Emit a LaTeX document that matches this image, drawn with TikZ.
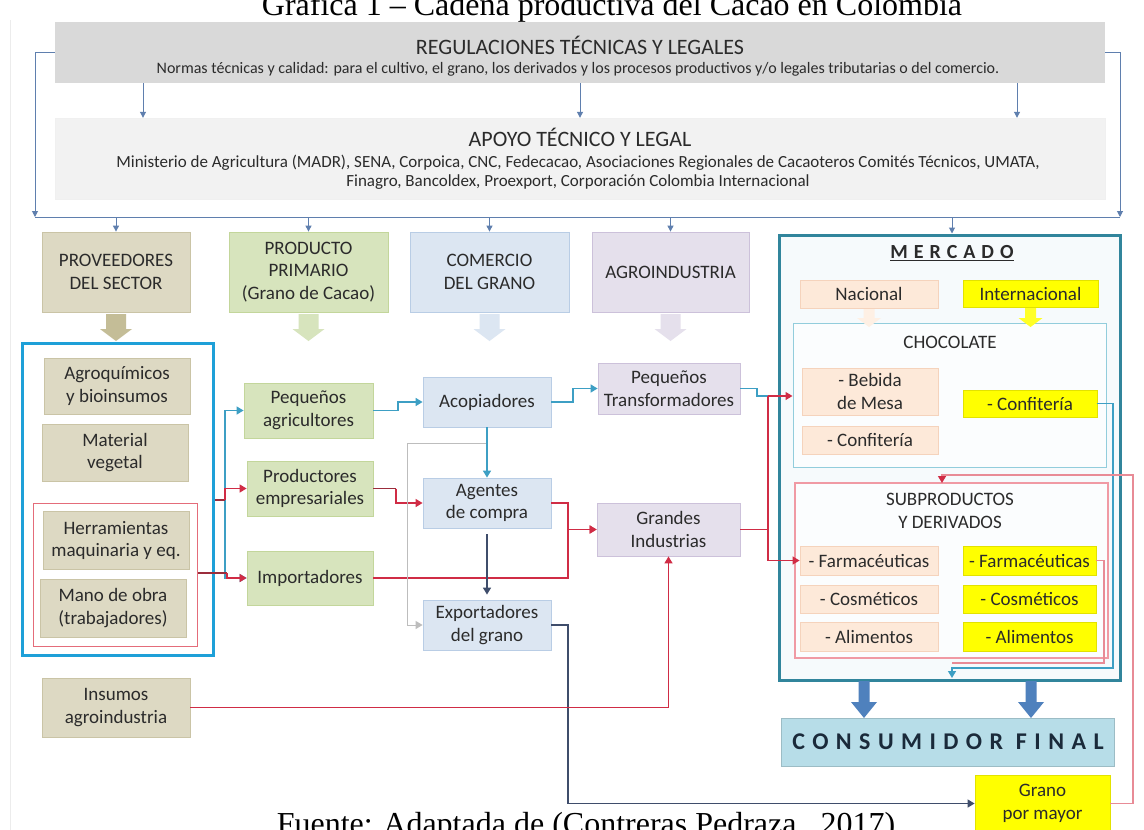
\documentclass[tikz,border=0pt]{standalone}
\usepackage{fontspec}
\setmainfont{Carlito}
\newfontfamily\tnr{Liberation Serif}
\usetikzlibrary{arrows.meta}
\definecolor{txt}{HTML}{2B2B2B}
\definecolor{regF}{HTML}{D9D9D9}
\definecolor{apoF}{HTML}{F2F2F2}
\definecolor{tanF}{HTML}{DDD9C3}
\definecolor{tanD}{HTML}{CAC4A6}
\definecolor{tanA}{HTML}{C4BD97}
\definecolor{grnF}{HTML}{D7E4BD}
\definecolor{grnD}{HTML}{C3D69B}
\definecolor{bluF}{HTML}{DCE6F2}
\definecolor{bluD}{HTML}{B9CDE5}
\definecolor{lavF}{HTML}{E5E0EC}
\definecolor{lavD}{HTML}{CCC1DA}
\definecolor{pchF}{HTML}{FDE9D9}
\definecolor{pchD}{HTML}{F5D3BC}
\definecolor{yelF}{HTML}{FFFF00}
\definecolor{yelD}{HTML}{E2E200}
\definecolor{mercD}{HTML}{31859C}
\definecolor{mercF}{HTML}{F6FAFC}
\definecolor{chocD}{HTML}{92CDDC}
\definecolor{subD}{HTML}{F09AA4}
\definecolor{provD}{HTML}{1EA0D8}
\definecolor{pinkD}{HTML}{E46C7A}
\definecolor{consF}{HTML}{B7DDE8}
\definecolor{consT}{HTML}{1A2A3A}
\definecolor{regL}{HTML}{5F7FAE}
\definecolor{bluC}{HTML}{3D9FC4}
\definecolor{redC}{HTML}{D02C45}
\definecolor{marC}{HTML}{9B2D3C}
\definecolor{navC}{HTML}{3F4D6B}
\definecolor{pnkC}{HTML}{E88B96}
\definecolor{bigA}{HTML}{4F81BD}
\definecolor{grayC}{HTML}{BDBDBD}
\newcommand\fsz{\fontsize{19}{22.5}\selectfont}
\newcommand\blkarr[7]{%
  \fill[#4] ({#1-#5/2},#2) -- ({#1+#5/2},#2) -- ({#1+#5/2},{#3-#7}) -- ({#1+#6/2},{#3-#7}) -- (#1,#3) -- ({#1-#6/2},{#3-#7}) -- ({#1-#5/2},{#3-#7}) -- cycle;}
\tikzset{
  every node/.style={text=txt, inner sep=0pt, align=center, font=\fsz},
  bx/.style={draw, line width=0.8pt},
  tanb/.style={bx, fill=tanF, draw=tanD},
  grnb/.style={bx, fill=grnF, draw=grnD},
  blub/.style={bx, fill=bluF, draw=bluD},
  lavb/.style={bx, fill=lavF, draw=lavD},
  pchb/.style={bx, fill=pchF, draw=pchD},
  yelb/.style={bx, fill=yelF, draw=yelD},
  conn/.style={line width=1.4pt},
  arr/.style={-{Triangle[length=7pt,width=8pt]}},
  regc/.style={draw=regL, line width=1pt, -{Triangle[length=6pt,width=6pt]}},
  bluec/.style={conn, draw=bluC},
  redc/.style={conn, draw=redC},
  marc/.style={conn, draw=marC},
  navc/.style={conn, draw=navC},
  pnkc/.style={conn, draw=pnkC},
  grayc/.style={line width=1pt, draw=grayC},
}
\begin{document}
\begin{tikzpicture}[x=1pt,y=-1pt]
\useasboundingbox (0,0) rectangle (1144,830);
\fill[white] (0,0) rectangle (1144,830);
\draw[gray!15, line width=1pt] (10,20) -- (10,830);
% title and caption
\node[font=\tnr\fontsize{32}{36}\selectfont, text=black, anchor=base] (title) at (612,15) {Gráfica 1 – Cadena productiva del Cacao en Colombia};
\node[font=\tnr\fontsize{32}{36}\selectfont, text=black, anchor=base] (fuente) at (586,834) {Fuente: Adaptada de (Contreras Pedraza , 2017)};
% top bands
\node[fill=regF, minimum width=1050, minimum height=61] (reg) at (580,52.5) {};
\node[font=\fontsize{22}{26}\selectfont] (regT) at (580,45) {REGULACIONES TÉCNICAS Y LEGALES};
\node[font=\fontsize{16}{19}\selectfont] (regS) at (578,69) {Normas técnicas y calidad: para el cultivo, el grano, los derivados y los procesos productivos y/o legales tributarias o del comercio.};
\node[fill=apoF, draw=gray!12, minimum width=1050, minimum height=81] (apo) at (580,158.5) {};
\node[font=\fontsize{22}{26}\selectfont] (apoT) at (580,137) {APOYO TÉCNICO Y LEGAL};
\node[font=\fontsize{17}{19.5}\selectfont] (apoS) at (578,172) {Ministerio de Agricultura (MADR), SENA, Corpoica, CNC, Fedecacao, Asociaciones Regionales de Cacaoteros Comités Técnicos, UMATA,\\Finagro, Bancoldex, Proexport, Corporación Colombia Internacional};
\foreach \xx in {143,580,1017}{\draw[regc] (reg.south -| \xx,0) -- (apo.north -| \xx,0);}
\coordinate (busL) at (35,217);
\coordinate (busR) at (1120,217);
\draw[regc] (reg.west) -| (busL);
\draw[regc] (reg.east) -| (busR);
\draw[draw=regL, line width=1pt] (busL) -- (busR);
% category boxes
\node[tanb, minimum width=148, minimum height=80] (prov) at (116,272) {PROVEEDORES\\DEL SECTOR};
\node[grnb, minimum width=159, minimum height=80] (prim) at (308.5,272) {PRODUCTO\\PRIMARIO\\(Grano de Cacao)};
\node[blub, minimum width=159, minimum height=80] (come) at (489.5,272) {COMERCIO\\DEL GRANO};
\node[lavb, minimum width=157, minimum height=80] (agri) at (670.5,272) {AGROINDUSTRIA};
\node[draw=mercD, fill=mercF, line width=3pt, minimum width=341, minimum height=445] (merc) at (949.5,457.5) {};
\foreach \nn/\xx in {prov/116,prim/308.5,come/489.5,agri/670.5,merc/952}{\draw[regc] (busL -| \xx,0) -- (\nn.north -| \xx,0);}
% block arrows under categories
\blkarr{116}{314}{341}{tanA}{20}{32}{12}
\blkarr{308.5}{314}{341}{grnF}{20}{32}{12}
\blkarr{489.5}{314}{341}{bluF}{20}{32}{12}
\blkarr{670.5}{314}{341}{lavF}{20}{32}{12}
% provider group
\node[draw=provD, line width=3pt, minimum width=191, minimum height=312] (provbox) at (117.5,499) {};
\node[tanb, minimum width=146, minimum height=56] (agroq) at (117,386) {Agroquímicos\\y bioinsumos};
\node[tanb, minimum width=146, minimum height=57] (matv) at (115,452.5) {Material\\vegetal};
\node[draw=pinkD, line width=1pt, minimum width=164, minimum height=143] (pinkbox) at (115,574.5) {};
\node[tanb, minimum width=146, minimum height=58] (herr) at (116,540.5) {Herramientas\\maquinaria y eq.};
\node[tanb, minimum width=146, minimum height=58] (mano) at (113,608) {Mano de obra\\(trabajadores)};
\node[tanb, minimum width=148, minimum height=59] (insu) at (116,707.5) {Insumos\\agroindustria};
% primary
\node[grnb, minimum width=129, minimum height=55] (peqag) at (308.5,410.5) {Pequeños\\agricultores};
\node[grnb, minimum width=126, minimum height=55] (prodemp) at (310,488.5) {Productores\\empresariales};
\node[grnb, minimum width=126, minimum height=54] (import) at (310,578) {Importadores};
% commerce
\node[blub, minimum width=128, minimum height=50] (acop) at (487,402) {Acopiadores};
\node[blub, minimum width=128, minimum height=50] (agen) at (487,503) {Agentes\\de compra};
\node[blub, minimum width=128, minimum height=50] (expo) at (487,625) {Exportadores\\del grano};
% agroindustry
\node[lavb, minimum width=142, minimum height=51] (peqtr) at (669,388.5) {Pequeños\\Transformadores};
\node[lavb, minimum width=143, minimum height=53] (grand) at (668.5,529.5) {Grandes\\Industrias};
% market
\node[font=\fontsize{20}{24}\selectfont\bfseries] (mercT) at (952,253) {\underline{\addfontfeatures{LetterSpace=30}MERCADO}};
\node[pchb, minimum width=138, minimum height=28] (nac) at (869,294) {Nacional};
\node[yelb, minimum width=135, minimum height=27] (intl) at (1030.5,293.5) {Internacional};
\node[draw=chocD, fill=white!60!mercF, line width=1pt, minimum width=313, minimum height=144] (choc) at (949.5,395) {};
\blkarr{869}{309}{327}{pchF!70}{11}{24}{9}
\blkarr{1030.5}{308}{327}{yelF!85!white}{11}{24}{9}
\node (chocT) at (950,342) {CHOCOLATE};
\node[pchb, minimum width=136, minimum height=47] (bebi) at (870,391.5) {- Bebida\\de Mesa};
\node[pchb, minimum width=136, minimum height=28] (confN) at (870,440) {- Confitería};
\node[yelb, minimum width=134, minimum height=27] (confI) at (1030,403.5) {- Confitería};
\node[draw=subD, fill=white!60!mercF, line width=1.2pt, minimum width=313, minimum height=175] (subp) at (951.5,570.5) {};
\node (subT) at (950,511) {SUBPRODUCTOS\\Y DERIVADOS};
\node[pchb, minimum width=138, minimum height=29] (farN) at (869,560.5) {- Farmacéuticas};
\node[yelb, minimum width=133, minimum height=29] (farI) at (1029.5,560.5) {- Farmacéuticas};
\node[pchb, minimum width=138, minimum height=28] (cosN) at (869,599) {- Cosméticos};
\node[yelb, minimum width=133, minimum height=28] (cosI) at (1029.5,599) {- Cosméticos};
\node[pchb, minimum width=138, minimum height=29] (aliN) at (869,636.5) {- Alimentos};
\node[yelb, minimum width=133, minimum height=29] (aliI) at (1029.5,636.5) {- Alimentos};
% consumer
\node[fill=consF, draw=consF!85!black, line width=0.6pt, minimum width=333, minimum height=48, font=\fontsize{24}{28}\selectfont\bfseries, text=consT] (cons) at (948,742) {\addfontfeatures{LetterSpace=31}CONSUMIDOR FINAL};
\blkarr{864}{681}{718}{bigA}{11}{26}{16}
\blkarr{1031}{681}{718}{bigA}{11}{26}{16}
\node[yelb, minimum width=135, minimum height=57] (grano) at (1042.5,803.5) {Grano\\por mayor};
% connectors: providers -> primary
\draw[bluec, arr] (provbox.east |- 0,500) -- (225,500) |- (peqag.west);
\draw[bluec, arr] (provbox.east |- 0,500) -- (225,500) |- (import.west);
\draw[marC, line width=1.4pt] (provbox.east |- 0,500) -- (225,500);
\draw[redc, arr] (225,500) |- (prodemp.west);
\draw[marC, line width=1.4pt] (pinkbox.east |- 0,573) -- (227,573);
\draw[redc, arr] (227,573) |- (import.west);
% primary -> commerce
\draw[bluec, arr] (peqag.east) -- (398,410.5) |- (acop.west);
\draw[marC, line width=1.4pt] (prodemp.east) -- (396,488.5);
\draw[redc, arr] (396,488.5) |- (agen.west);
\draw[redc, arr] (agen.east) -- (568,503) |- (grand.west);
\draw[redc, arr] (import.east) -| (568,529.5) -- (grand.west);
\draw[grayc, arr] (acop.south) ++(0,16) -| (407,625) -- (expo.west);
\draw[bluec, arr] (acop.south) -- (agen.north);
\draw[navc, arr, shorten <=6pt, shorten >=5pt] (agen.south) -- (expo.north);
\draw[navc, arr] (expo.east) -- (568,625) |- (grano.west);
% commerce -> agroindustry
\draw[bluec, arr] (acop.east) -- (573,402) |- (peqtr.west);
\draw[redc, arr] (insu.east) -| (grand.south);
% agroindustry -> market
\draw[bluec] (peqtr.east) -- (757,388.5) |- (768,396);
\draw[redc, arr] (768,396) -- (choc.west |- 0,396);
\draw[redc] (768,396) -- (768,529.5);
\draw[redc, arr] (grand.east) -- (768,529.5) |- (farN.west);
% inside market
\draw[pnkc] (farI.east) -- (1104,560.5) |- (952,663);
\draw[bluec, arr] (confI.east) -- (1113,403.5) |- (952,668) -- (952,678);
\draw[pnkc, -{Triangle[length=7pt,width=8pt,color=redC]}] (grano.east) -| (1133,475) -| (942,483);
\end{tikzpicture}
\end{document}
